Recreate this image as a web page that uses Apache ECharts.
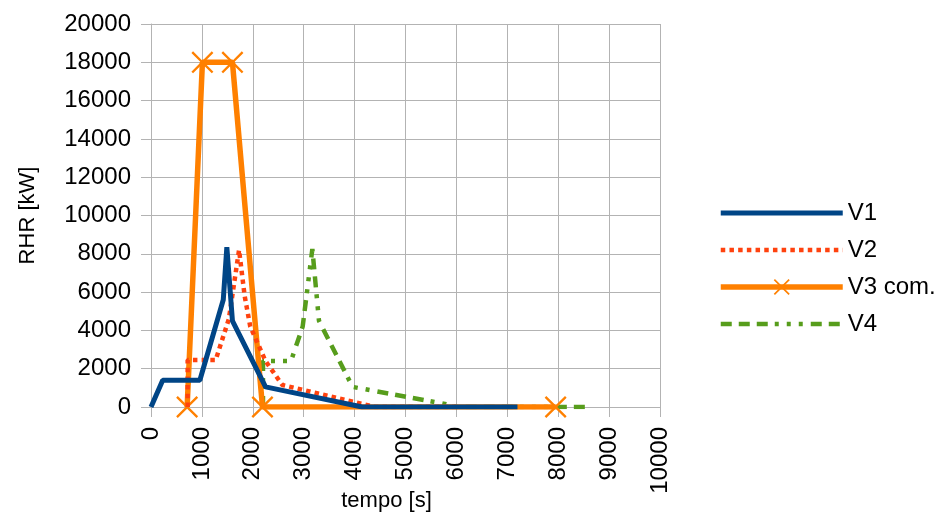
<!DOCTYPE html>
<html>
<head>
<meta charset="utf-8">
<script src="https://cdn.jsdelivr.net/npm/echarts@6/dist/echarts.min.js"></script>
<style>
  html, body { margin: 0; padding: 0; background: #fff; }
  #main { width: 948px; height: 519px; }
</style>
</head>
<body>
<div id="main"></div>
<script>
// [tempo s, RHR kW]
const v1 = [[0, 0], [230, 1400], [960, 1400], [1420, 5600], [1490, 8350], [1600, 4500], [2250, 1050], [4150, 0], [7200, 0]];
const v2 = [[720, 0], [720, 2450], [1270, 2450], [1530, 4600], [1730, 8200], [1840, 5800], [1950, 4200], [2250, 2400], [2580, 1150], [4400, 0], [6000, 0]];
const v3 = [[710, 0], [1010, 18000], [1600, 18000], [2190, 0], [7950, 0]];
const v4 = [[2200, 0], [2200, 2400], [2750, 2400], [2980, 4200], [3170, 8250], [3300, 4500], [3960, 1050], [5800, 150], [6000, 0], [8650, 0]];
const seriesNames = ['V1', 'V2', 'V3 com.', 'V4'];

const cross = 'path://M1.5,0L10,8.5L18.5,0L20,1.5L11.5,10L20,18.5L18.5,20L10,11.5L1.5,20L0,18.5L8.5,10L0,1.5Z';
const font = 'Liberation Sans';
const plain = v => String(v);

var myChart = echarts.init(document.getElementById('main'));
var option = {
  animation: false,
  textStyle: { fontFamily: font },
  grid: { left: 151, right: 288, top: 24, bottom: 112, outerBoundsMode: 'none', containLabel: false },
  legend: {
    data: seriesNames.map(n => n === 'V3 com.' ? { name: n } : { name: n, itemStyle: { opacity: 0 } }),
    orient: 'vertical',
    left: 713,
    top: 196,
    itemWidth: 122,
    itemHeight: 20,
    itemGap: 13,
    lineStyle: { width: 'inherit' },
    textStyle: { fontSize: 24, color: '#000', fontFamily: font }
  },
  xAxis: {
    type: 'value',
    min: 0,
    max: 10000,
    interval: 1000,
    name: 'tempo [s]',
    nameLocation: 'middle',
    nameGap: 83,
    nameMoveOverlap: false,
    nameTextStyle: { fontSize: 22, color: '#000', padding: [0, 38, 0, 0] },
    axisLine: { show: true, lineStyle: { color: '#b3b3b3' } },
    axisTick: { show: true, length: 10, lineStyle: { color: '#b3b3b3' } },
    axisLabel: { rotate: 90, fontSize: 24, color: '#000', margin: 20, formatter: plain },
    splitLine: { show: true, lineStyle: { color: '#b3b3b3' } }
  },
  yAxis: {
    type: 'value',
    min: 0,
    max: 20000,
    interval: 2000,
    name: 'RHR [kW]',
    nameLocation: 'middle',
    nameGap: 112,
    nameMoveOverlap: false,
    nameTextStyle: { fontSize: 22, color: '#000' },
    axisLine: { show: true, lineStyle: { color: '#b3b3b3' } },
    axisTick: { show: true, length: 10, lineStyle: { color: '#b3b3b3' } },
    axisLabel: { fontSize: 24, color: '#000', margin: 20, formatter: plain },
    splitLine: { show: true, lineStyle: { color: '#b3b3b3' } }
  },
  series: [
    {
      name: 'V1', type: 'line', data: v1, z: 5,
      symbol: 'none',
      color: '#004586',
      lineStyle: { width: 5, color: '#004586' }
    },
    {
      name: 'V2', type: 'line', data: v2, z: 4,
      symbol: 'none',
      color: '#ff420e',
      lineStyle: { width: 4.5, color: '#ff420e', type: [4.5, 4.2] }
    },
    {
      name: 'V3 com.', type: 'line', data: v3, z: 3,
      symbol: cross, symbolSize: 22,
      color: '#ff8000',
      itemStyle: { color: '#ff8000' },
      lineStyle: { width: 5.5, color: '#ff8000' }
    },
    {
      name: 'V4', type: 'line', data: v4, z: 2,
      symbol: 'none',
      color: '#579d1c',
      lineStyle: { width: 4.5, color: '#579d1c', type: [11, 7, 11, 7, 11, 7, 4, 8, 4, 8, 4, 8] }
    }
  ]
};

option && myChart.setOption(option);
</script>
</body>
</html>
